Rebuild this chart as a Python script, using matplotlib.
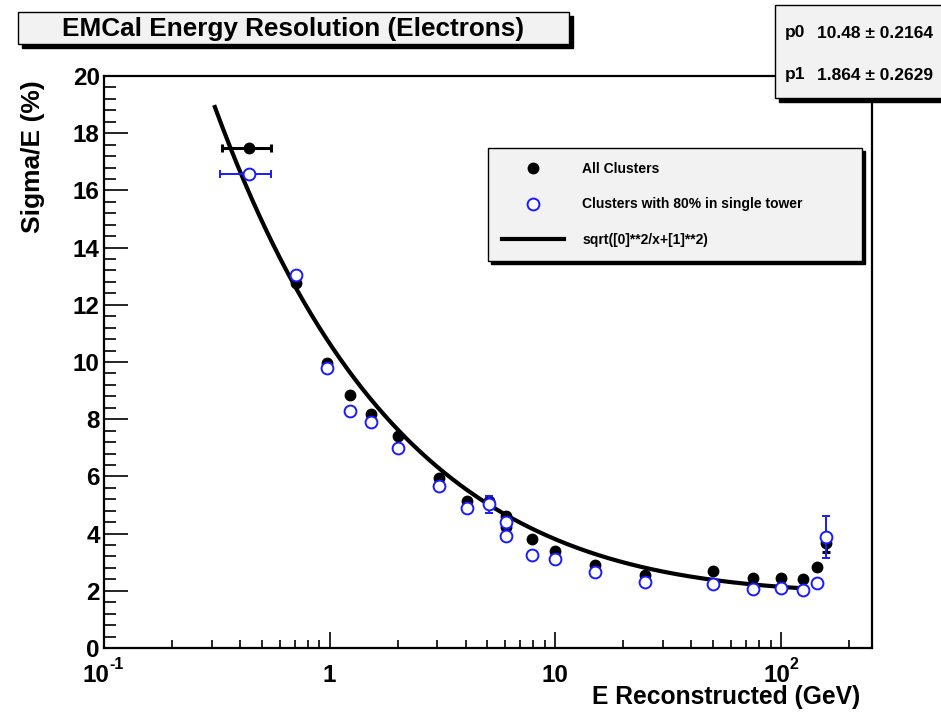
import matplotlib
matplotlib.use("Agg")
import matplotlib.pyplot as plt
import numpy as np
from matplotlib.patches import Rectangle
from matplotlib.ticker import FixedLocator, FixedFormatter, NullFormatter

# ---------------- data ----------------
energy = [0.44, 0.71, 0.975, 1.23, 1.53, 2.0, 3.05, 4.05, 5.1, 6.05, 6.05, 7.9,
          10.0, 15.0, 25.0, 50.0, 75.0, 100.0, 125.0, 145.0, 158.0]
all_clusters = [17.50, 12.76, 9.97, 8.85, 8.18, 7.43, 5.93, 5.15, 5.14, 4.62, 4.23, 3.81,
                3.39, 2.90, 2.55, 2.69, 2.45, 2.45, 2.41, 2.83, 3.67]
all_xerr = [0.107] + [0.0] * 20
all_yerr = [0.0] * 20 + [0.30]
single_tower = [16.58, 13.04, 9.79, 8.29, 7.90, 6.99, 5.68, 4.90, 5.02, 4.40, 3.92, 3.25,
                3.11, 2.66, 2.31, 2.24, 2.06, 2.10, 2.03, 2.27, 3.88]
single_xerr = [0.112] + [0.0] * 20
single_yerr = [0.0] * 8 + [0.31] + [0.0] * 11 + [0.73]

fit_p0 = 10.48
fit_p0_err = 0.2164
fit_p1 = 1.864
fit_p1_err = 0.2629
fit_range = [0.31, 125.0]

x_major = [0.1, 1, 10, 100]
x_major_labels = ["", "1", "10", ""]
x_power_ticks = [0.1, 100]
x_power_exps = ["-1", "2"]
y_major = [0, 2, 4, 6, 8, 10, 12, 14, 16, 18, 20]

title_text = "EMCal Energy Resolution (Electrons)"
legend_labels = ["All Clusters", "Clusters with 80% in single tower", "sqrt([0]**2/x+[1]**2)"]

# ---------------- style ----------------
W, H = 941, 712
SANS = ["Liberation Sans", "DejaVu Sans"]
plt.rcParams["font.family"] = SANS

fig = plt.figure(figsize=(W / 100, H / 100), dpi=100)
fig.patch.set_facecolor("white")

left, right, top, bottom = 104, 872, 76, 648
ax = fig.add_axes([left / W, 1 - bottom / H, (right - left) / W, (bottom - top) / H])
ax.set_xscale("log")
ax.set_xlim(0.1, 253)
ax.set_ylim(0, 20)

# fit curve from parameters
xf = np.logspace(np.log10(fit_range[0]), np.log10(fit_range[1]), 400)
yf = np.sqrt(fit_p0 ** 2 / xf + fit_p1 ** 2)
ax.plot(xf, yf, color="black", lw=3.0, zorder=3)

# data
ax.errorbar(energy, all_clusters, xerr=all_xerr, yerr=all_yerr, fmt="o",
            color="black", ms=7.5, elinewidth=2.2, capsize=3, capthick=2.2, zorder=4)
ax.errorbar(energy, single_tower, xerr=single_xerr, yerr=single_yerr, fmt="o",
            color="#1a1aff", mfc="white", mec="#1a1aff", ms=8.5, mew=1.4,
            elinewidth=1.4, capsize=3, capthick=1.4, zorder=5)

# axes style
for s in ["left", "bottom", "right", "top"]:
    ax.spines[s].set_linewidth(1.6)
ax.xaxis.set_major_locator(FixedLocator(x_major))
ax.xaxis.set_major_formatter(FixedFormatter(x_major_labels))
minors = []
for dec in [0.1, 1, 10, 100]:
    for m in range(2, 10):
        v = dec * m
        if v < 253:
            minors.append(v)
ax.xaxis.set_minor_locator(FixedLocator(minors))
ax.xaxis.set_minor_formatter(NullFormatter())
ax.yaxis.set_major_locator(FixedLocator(y_major))
ax.yaxis.set_minor_locator(FixedLocator(np.arange(0, 20.01, 0.4)))
ax.tick_params(axis="x", which="major", direction="in", length=11.5, width=1.2,
               labelsize=17.5, pad=11.3, top=False)
ax.tick_params(axis="x", which="minor", direction="in", length=6, width=1.2, top=False)
ax.tick_params(axis="y", which="major", direction="in", length=17, width=1.2,
               labelsize=17.5, pad=3, right=False)
ax.tick_params(axis="y", which="minor", direction="in", length=8.5, width=1.2, right=False)
for lab in ax.get_xticklabels() + ax.get_yticklabels():
    lab.set_fontweight("bold")

# power-of-ten tick labels (10 with a superscript exponent)
for xv, ex, dx_base, dx_exp in zip(x_power_ticks, x_power_exps, [-8, -4], [5, 8]):
    ax.annotate("10", xy=(xv, 0), xycoords=("data", "axes fraction"),
                xytext=(dx_base, -16), textcoords="offset pixels",
                ha="center", va="top", fontsize=17.5, fontweight="bold",
                annotation_clip=False)
    ax.annotate(ex, xy=(xv, 0), xycoords=("data", "axes fraction"),
                xytext=(dx_exp, -9), textcoords="offset pixels",
                ha="left", va="top", fontsize=11.5, fontweight="bold",
                annotation_clip=False)

# axis labels
fig.text(860 / W, 1 - 697 / H, "E Reconstructed (GeV)", ha="right", va="center",
         fontsize=17.7, fontweight="bold")
fig.text(33 / W, 1 - 80 / H, "Sigma/E (%)", ha="center", va="top", rotation=90,
         fontsize=19, fontweight="bold")


def shadow_box(x0, y0, x1, y1, off=4, fc="#f2f2f2"):
    sh = Rectangle(((x0 + off) / W, 1 - (y1 + off) / H), (x1 - x0) / W, (y1 - y0) / H,
                   transform=fig.transFigure, facecolor="black", edgecolor="black", zorder=10)
    bx = Rectangle((x0 / W, 1 - y1 / H), (x1 - x0) / W, (y1 - y0) / H,
                   transform=fig.transFigure, facecolor=fc, edgecolor="black", lw=1.0, zorder=11)
    fig.add_artist(sh)
    fig.add_artist(bx)


# title box
shadow_box(18, 12, 569, 44, off=4)
fig.text(293 / W, 1 - 29 / H, title_text, ha="center", va="center", fontsize=18.8,
         fontweight="bold", zorder=12)

# stats box
shadow_box(775, 5, 945, 98, off=4)
for yy, name, txt in [(33, "p0", f"{fit_p0:.2f} \u00b1 {fit_p0_err:.4f}"),
                      (75, "p1", f"{fit_p1:.3f} \u00b1 {fit_p1_err:.4f}")]:
    fig.text(785 / W, 1 - yy / H, name, ha="left", va="center", fontsize=12.5,
             fontweight="bold", zorder=12)
    fig.text(817 / W, 1 - yy / H, txt, ha="left", va="center", fontsize=12.5,
             fontweight="bold", zorder=12)

# legend
h1 = plt.Line2D([], [], ls="none", marker="o", color="black", ms=7.5)
h2 = plt.Line2D([], [], ls="none", marker="o", mfc="white", mec="#1a1aff", ms=8.5, mew=1.4)
h3 = plt.Line2D([], [], color="black", lw=3.0)
leg = ax.legend([h1, h2, h3], legend_labels, loc="upper left",
                bbox_to_anchor=(488 / W, 1 - 148 / H - 0.01, (862 - 488) / W, 0.01),
                bbox_transform=fig.transFigure, mode="expand",
                prop={"family": SANS, "weight": "bold", "size": 10},
                handlelength=4.5, handletextpad=1.3, labelspacing=1.55, borderpad=1.0,
                borderaxespad=0, fancybox=False, framealpha=1,
                facecolor="#f2f2f2", edgecolor="black",
                shadow={"color": "black", "alpha": 1})
leg.get_frame().set_linewidth(1.0)

fig.savefig("out.png", dpi=100)
